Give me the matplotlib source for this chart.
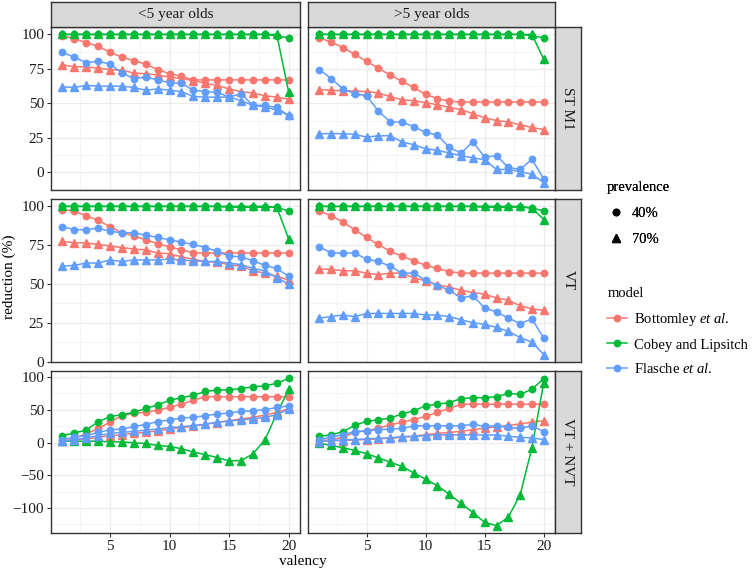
import numpy as np
import matplotlib.pyplot as plt
from matplotlib.lines import Line2D

plt.rcParams['font.family'] = ['Liberation Serif', 'DejaVu Serif']
plt.rcParams['mathtext.fontset'] = 'custom'
plt.rcParams['mathtext.rm'] = 'Liberation Serif'
plt.rcParams['mathtext.it'] = 'Liberation Serif:italic'

valency = list(range(1, 21))

# ST M1, <5 year olds
st_u5_bot40 = [99, 97, 94, 91.5, 87, 83.5, 81, 78.5, 74.5, 71.5, 69.5, 67, 67, 67, 67, 67, 67, 67, 67, 67]
st_u5_bot70 = [78, 76.5, 76.5, 75.5, 74.5, 74, 72, 71.5, 70.5, 69, 68, 66.5, 64.5, 63, 60.5, 58.5, 57.5, 55.5, 54.5, 53]
st_u5_cob40 = [100] * 18 + [99, 97.5]
st_u5_cob70 = [100] * 19 + [58]
st_u5_fla40 = [87, 83.5, 79.5, 80.5, 78.5, 72, 68, 69, 67, 65, 64.5, 59.5, 58.5, 58, 54.5, 57, 48.5, 48.5, 47, 41]
st_u5_fla70 = [62, 61.5, 63, 62.5, 62.5, 62.5, 61.5, 59.5, 60.5, 59.5, 58.5, 55, 54.5, 54.5, 54.5, 52, 48.5, 47.5, 45, 41.5]

# ST M1, >5 year olds
st_o5_bot40 = [97.5, 94.5, 90.5, 85.5, 80.5, 75.5, 70.5, 66, 61.5, 56.5, 53.5, 51.5, 51, 51, 51, 51, 51, 51, 51, 51]
st_o5_bot70 = [60, 59.5, 59, 59, 58.5, 57.5, 55, 52.5, 52, 50.5, 49, 47, 45.5, 42.5, 39.5, 37.5, 36.5, 34.5, 32.5, 31]
st_o5_cob40 = [100] * 18 + [99, 97.5]
st_o5_cob70 = [100] * 19 + [82]
st_o5_fla40 = [74.5, 68, 60.5, 57, 55.5, 44.5, 36.5, 36.5, 33, 29, 27, 18, 14, 22, 11, 12, 3.5, 2, 9.5, -5]
st_o5_fla70 = [28, 28, 28, 27.5, 25.5, 26.5, 26.5, 22, 20, 17, 16, 14, 12, 10.5, 9, 2, 2, 0.5, -1.5, -7.5]

# VT, <5 year olds
vt_u5_bot40 = [98, 97, 94, 91, 87, 83, 81, 78.5, 76, 74, 72, 70, 70, 70, 70, 70, 70, 70, 70, 70]
vt_u5_bot70 = [77.5, 76.5, 76.5, 75.5, 74.5, 73.5, 72.5, 72, 70, 69.5, 67.5, 66, 64.5, 64, 62.5, 61.5, 58.5, 57, 55, 52.5]
vt_u5_cob40 = [100] * 14 + [99.5] * 5 + [97]
vt_u5_cob70 = [100] * 18 + [99.5, 79]
vt_u5_fla40 = [87, 85, 85, 86, 84, 83, 83, 81.5, 80, 78.5, 77, 75.5, 73.5, 71, 68, 67.5, 65, 62, 60, 55]
vt_u5_fla70 = [61.5, 62, 63.5, 63.5, 65.5, 64.5, 65.5, 65.5, 65.5, 66, 65.5, 65, 64.5, 64.5, 63.5, 62.5, 60, 58.5, 54, 50]

# VT, >5 year olds
vt_o5_bot40 = [97, 94, 90, 85, 80, 75.5, 71, 68, 65, 62, 60, 58, 57, 57, 57, 57, 57, 57, 57, 57]
vt_o5_bot70 = [59.5, 59.5, 58.5, 58.5, 57, 56, 57, 57, 54, 52, 49.5, 48, 46, 44.5, 43.5, 41, 39.5, 36, 34, 33]
vt_o5_cob40 = [100] * 14 + [99.5] * 4 + [99, 97]
vt_o5_cob70 = [100] * 18 + [99, 91.5]
vt_o5_fla40 = [74, 70, 70, 70, 66, 64.5, 61.5, 57, 57, 52.5, 49, 46, 41, 42.5, 34.5, 32, 28, 24.5, 27.5, 15]
vt_o5_fla70 = [28, 29, 30, 29, 31, 31, 31, 31, 31, 30, 30, 29, 27, 25, 24, 22, 19.5, 15.5, 12.5, 4.5]

# VT + NVT, <5 year olds
nvt_u5_bot40 = [4.5, 7, 13, 21.5, 31, 41, 44.5, 46, 49.5, 53.5, 58.5, 64.5, 70, 70, 70, 70, 70, 70, 70, 70]
nvt_u5_bot70 = [3, 4, 5.5, 8, 10.5, 12, 14, 15.5, 18, 20.5, 23, 24.5, 28, 30.5, 33.5, 36, 38.5, 42, 46, 52]
nvt_u5_cob40 = [10.5, 14.5, 19, 31.5, 39.5, 42.5, 46, 52, 57.5, 64.5, 68.5, 72, 78, 80, 80.5, 82.5, 85, 86.5, 90.5, 98]
nvt_u5_cob70 = [2, 2, 2, 2, 1, 1, -0.5, -1.5, -4.5, -6, -9.5, -14.5, -18.5, -23, -28, -27.5, -17.5, 4, 44, 81]
nvt_u5_fla40 = [4.5, 8, 10.5, 15.5, 19.5, 20.5, 24.5, 27.5, 32, 34.5, 37.5, 38.5, 41, 43.5, 45, 47.5, 48.5, 50, 53.5, 56]
nvt_u5_fla70 = [2, 4, 7, 10.5, 14, 15.5, 17, 19, 20.5, 23, 24, 26, 28, 31, 32.5, 34.5, 36, 38.5, 42.5, 51]

# VT + NVT, >5 year olds
nvt_o5_bot40 = [3, 4, 8, 15.5, 18, 22, 27, 31, 35, 40, 46, 52, 58.5, 58.5, 58.5, 58.5, 58.5, 58.5, 58.5, 58.5]
nvt_o5_bot70 = [2, 3, 3, 4, 4.5, 5.5, 6.5, 8, 9.5, 12, 14, 15.5, 17, 19.5, 22, 24, 26, 28.5, 31, 33.5]
nvt_o5_cob40 = [9.5, 11.5, 16.5, 26, 32.5, 34.5, 37.5, 43.5, 48.5, 56, 58.5, 61, 67, 68.5, 68.5, 70, 75, 73.5, 81.5, 97.5]
nvt_o5_cob70 = [-1, -4.5, -8, -12, -17, -23.5, -30, -36.5, -46.5, -56, -66, -79, -93, -107, -122, -127, -114, -80, -8, 91.5]
nvt_o5_fla40 = [4.5, 8, 12, 16.5, 18, 19.5, 20.5, 21.5, 25.5, 25.5, 25.5, 25.5, 25.5, 28, 24.5, 25.5, 23, 21.5, 25.5, 16.5]
nvt_o5_fla70 = [1.5, 3, 4, 4.5, 5.5, 6.5, 7, 9, 9.5, 10.5, 11.5, 12, 11.5, 11.5, 11.5, 11.5, 9.5, 8, 7, 4.5]

row_names = ['ST M1', 'VT', 'VT + NVT']
col_names = ['<5 year olds', '>5 year olds']
model_labels = [r'Bottomley $\it{et\ al.}$', 'Cobey and Lipsitch', r'Flasche $\it{et\ al.}$']
prev_labels = ['40%', '70%']
colors = ['#F8766D', '#00BA38', '#619CFF']
markers = ['o', '^']
msizes = [4.6, 5.2]

panels = {
    (0, 0): [[st_u5_bot40, st_u5_bot70], [st_u5_cob40, st_u5_cob70], [st_u5_fla40, st_u5_fla70]],
    (0, 1): [[st_o5_bot40, st_o5_bot70], [st_o5_cob40, st_o5_cob70], [st_o5_fla40, st_o5_fla70]],
    (1, 0): [[vt_u5_bot40, vt_u5_bot70], [vt_u5_cob40, vt_u5_cob70], [vt_u5_fla40, vt_u5_fla70]],
    (1, 1): [[vt_o5_bot40, vt_o5_bot70], [vt_o5_cob40, vt_o5_cob70], [vt_o5_fla40, vt_o5_fla70]],
    (2, 0): [[nvt_u5_bot40, nvt_u5_bot70], [nvt_u5_cob40, nvt_u5_cob70], [nvt_u5_fla40, nvt_u5_fla70]],
    (2, 1): [[nvt_o5_bot40, nvt_o5_bot70], [nvt_o5_cob40, nvt_o5_cob70], [nvt_o5_fla40, nvt_o5_fla70]],
}
row_ticks = [[0, 25, 50, 75, 100], [0, 25, 50, 75, 100], [-100, -50, 0, 50, 100]]

W, H = 752, 575
fig = plt.figure(figsize=(W / 100, H / 100), dpi=100)

def rect(x0, x1, y0, y1):
    return [x0 / W, 1 - y1 / H, (x1 - x0) / W, (y1 - y0) / H]

col_x = [(51, 300), (308, 555)]
row_y = [(27, 190), (199, 362), (371, 533)]
edge = '#333333'

def strip(r, text, rot):
    sa = fig.add_axes(r)
    sa.set_facecolor('#D9D9D9')
    sa.set_xticks([])
    sa.set_yticks([])
    for s in sa.spines.values():
        s.set_color(edge)
        s.set_linewidth(1.0)
    sa.text(0.5, 0.5, text, ha='center', va='center', rotation=rot,
            fontsize=11, color='#1a1a1a', transform=sa.transAxes)

for r in range(3):
    allv = np.concatenate([np.ravel(panels[(r, c)]) for c in range(2)])
    lo, hi = allv.min(), allv.max()
    pad = 0.05 * (hi - lo)
    for c in range(2):
        ax = fig.add_axes(rect(col_x[c][0], col_x[c][1], row_y[r][0], row_y[r][1]))
        for m in range(3):
            for p in range(2):
                ax.plot(valency, panels[(r, c)][m][p], color=colors[m], lw=1.1,
                        marker=markers[p], ms=msizes[p], zorder=3)
        ax.set_xlim(1 - 0.95, 20 + 0.95)
        ax.set_xticks([5, 10, 15, 20])
        ax.set_xticks([2.5, 7.5, 12.5, 17.5], minor=True)
        t = row_ticks[r]
        step = t[1] - t[0]
        ax.set_yticks(t)
        ax.set_yticks([v + step / 2 for v in [t[0] - step] + t], minor=True)
        ax.set_ylim(lo - pad, hi + pad)
        ax.grid(which='major', color='#EBEBEB', lw=0.9, zorder=0)
        ax.grid(which='minor', color='#F2F2F2', lw=0.6, zorder=0)
        ax.set_axisbelow(True)
        ax.tick_params(which='major', direction='out', length=3, color=edge,
                       labelsize=11, labelcolor='#1a1a1a', pad=2)
        ax.tick_params(which='minor', length=0)
        if c == 1:
            ax.tick_params(axis='y', which='major', left=False, labelleft=False)
        if r < 2:
            ax.tick_params(axis='x', which='major', bottom=False, labelbottom=False)
        for s in ax.spines.values():
            s.set_color(edge)
            s.set_linewidth(1.0)

for c in range(2):
    strip(rect(col_x[c][0], col_x[c][1], 2, 27), col_names[c], 0)
for r in range(3):
    strip(rect(555, 581, row_y[r][0], row_y[r][1]), row_names[r], 270)

fig.text(303 / W, 1 - 562 / H, 'valency', ha='center', va='center', fontsize=11)
fig.text(9 / W, 1 - 277 / H, 'reduction (%)', ha='center', va='center',
         rotation=90, fontsize=11)

leg_font = 10.5
title_props = {'size': leg_font, 'weight': 'normal'}
prev_handles = [Line2D([], [], color='black', ls='none', marker=markers[p], ms=msizes[p])
                for p in range(2)]
leg1 = fig.legend(prev_handles, prev_labels, title='prevalence', loc='upper left',
                  bbox_to_anchor=(599 / W, 1 - 174 / H), frameon=False, fontsize=leg_font,
                  title_fontproperties=title_props, alignment='left', borderpad=0,
                  handlelength=1.37, handletextpad=0.4, labelspacing=0.88)
model_handles = [Line2D([], [], color=colors[m], lw=1.1, marker='o', ms=msizes[0])
                 for m in range(3)]
leg2 = fig.legend(model_handles, model_labels, title='model', loc='upper left',
                  bbox_to_anchor=(600 / W, 1 - 280 / H), frameon=False, fontsize=leg_font,
                  title_fontproperties=title_props, alignment='left', borderpad=0,
                  handlelength=1.37, handletextpad=0.45, labelspacing=0.72)
fig.add_artist(leg1)

fig.savefig('out.png', dpi=100)
